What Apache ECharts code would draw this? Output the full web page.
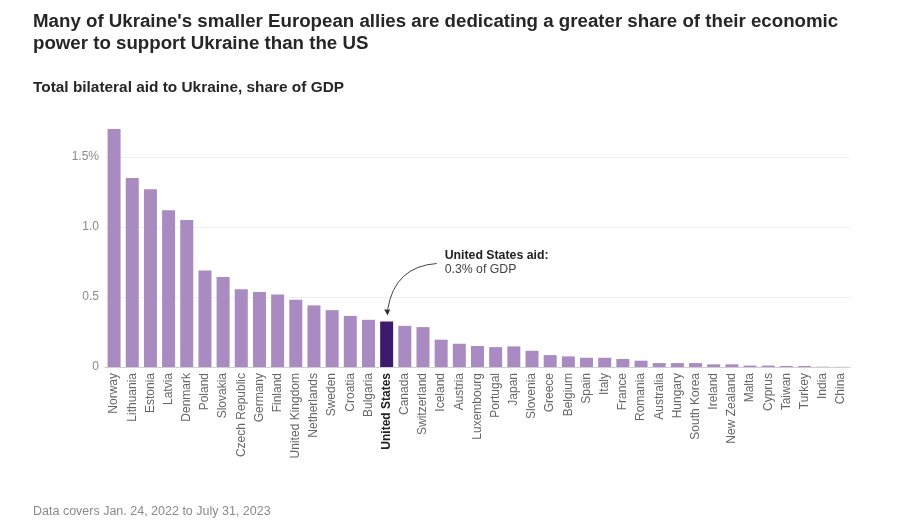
<!DOCTYPE html>
<html>
<head>
<meta charset="utf-8">
<script src="https://cdn.jsdelivr.net/npm/echarts@6/dist/echarts.min.js"></script>
<style>
html,body{margin:0;padding:0;background:#fff;}
#c{width:897px;height:532px;}
</style>
</head>
<body>
<div id="c"></div>
<script>
const countries = ["Norway","Lithuania","Estonia","Latvia","Denmark","Poland","Slovakia","Czech Republic","Germany","Finland","United Kingdom","Netherlands","Sweden","Croatia","Bulgaria","United States","Canada","Switzerland","Iceland","Austria","Luxembourg","Portugal","Japan","Slovenia","Greece","Belgium","Spain","Italy","France","Romania","Australia","Hungary","South Korea","Ireland","New Zealand","Malta","Cyprus","Taiwan","Turkey","India","China"];
const aidShare = [1.70,1.35,1.27,1.12,1.05,0.69,0.643,0.556,0.536,0.517,0.48,0.44,0.406,0.365,0.337,0.325,0.294,0.285,0.195,0.166,0.15,0.142,0.147,0.116,0.085,0.076,0.066,0.066,0.057,0.045,0.028,0.028,0.028,0.019,0.019,0.01,0.01,0.007,0.007,0.002,0.001];
const yTicks = [0, 0.5, 1.0, 1.5];
const yTickLabels = ["0", "0.5", "1.0", "1.5%"];
const highlight = "United States";

const chart = echarts.init(document.getElementById('c'));
const font = '"Liberation Sans", Arial, sans-serif';

chart.setOption({
  backgroundColor: '#ffffff',
  animation: false,
  title: [
    {text: "Many of Ukraine's smaller European allies are dedicating a greater share of their economic\npower to support Ukraine than the US",
     left: 28, top: 6,
     textStyle: {fontFamily: font, fontSize: 18.7, fontWeight: 'bold', color: '#262626', lineHeight: 22}},
    {text: "Total bilateral aid to Ukraine, share of GDP",
     left: 28, top: 75,
     textStyle: {fontFamily: font, fontSize: 15.4, fontWeight: 'bold', color: '#262626'}},
    {text: "Data covers Jan. 24, 2022 to July 31, 2023",
     left: 28, top: 500,
     textStyle: {fontFamily: font, fontSize: 12.5, fontWeight: 'normal', color: '#8a8a8a'}}
  ],
  grid: {left: 105, right: 47, top: 157, bottom: 165, containLabel: false},
  xAxis: {
    type: 'category',
    data: countries,
    axisLine: {lineStyle: {color: '#cfcfcf'}},
    axisTick: {show: false},
    axisLabel: {
      rotate: 90, interval: 0, margin: 6,
      fontFamily: font, fontSize: 12, color: '#666',
      formatter: v => v === highlight ? '{b|' + v + '}' : v,
      rich: {b: {fontFamily: font, fontSize: 12, fontWeight: 'bold', color: '#222'}}
    }
  },
  yAxis: {
    type: 'value',
    min: 0, max: 1.5, interval: 0.5,
    axisLine: {show: false},
    axisTick: {show: false},
    splitLine: {lineStyle: {color: '#efefef'}},
    axisLabel: {
      fontFamily: font, fontSize: 12, color: '#8a8a8a', margin: 6,
      formatter: v => {
        const i = yTicks.findIndex(t => Math.abs(t - v) < 1e-9);
        return i >= 0 ? yTickLabels[i] : '';
      }
    }
  },
  series: [{
    type: 'bar',
    clip: false,
    barWidth: 13,
    data: aidShare.map((v, i) => ({
      value: v,
      itemStyle: {color: countries[i] === highlight ? '#3e1a6c' : '#a98ac1'}
    }))
  }]
});

// annotation anchored to the highlighted bar
const ui = countries.indexOf(highlight);
const p = chart.convertToPixel({seriesIndex: 0}, [ui, aidShare[ui]]);
const x0 = p[0], y0 = p[1];
chart.setOption({
  graphic: [
    {type: 'text', x: x0 + 58, y: y0 - 72,
     style: {text: 'United States aid:', fontFamily: font, fontSize: 12.3, fontWeight: 'bold', fill: '#222'}},
    {type: 'text', x: x0 + 58, y: y0 - 58,
     style: {text: '0.3% of GDP', fontFamily: font, fontSize: 12.3, fill: '#444'}},
    {type: 'bezierCurve',
     shape: {x1: x0 + 50, y1: y0 - 58, x2: x0 + 1, y2: y0 - 12, cpx1: x0 + 8, cpy1: y0 - 55},
     style: {stroke: '#444', lineWidth: 1, fill: null}},
    {type: 'polygon',
     shape: {points: [[x0 - 2.5, y0 - 12], [x0 + 3.5, y0 - 12], [x0 + 1, y0 - 6]]},
     style: {fill: '#333'}}
  ]
});
</script>
</body>
</html>
